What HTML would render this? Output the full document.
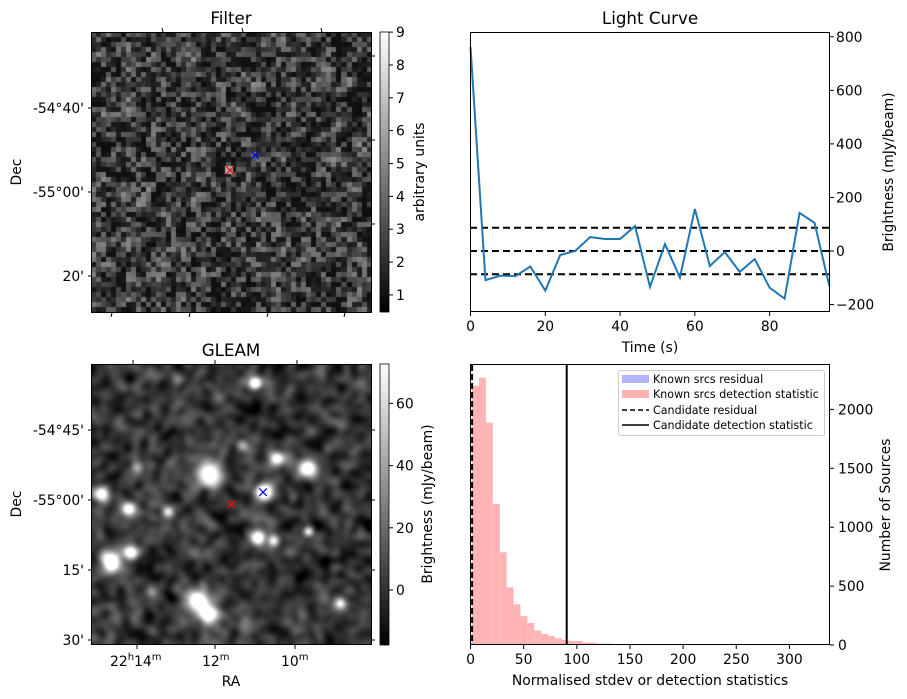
<!DOCTYPE html>
<html><head><meta charset="utf-8"><style>
body{margin:0;background:#fff;width:907px;height:699px;overflow:hidden;position:relative;font-family:"Liberation Sans","DejaVu Sans",sans-serif}
canvas{position:absolute}
svg{position:absolute;left:0;top:0}
text{font-family:"DejaVu Sans","Liberation Sans",sans-serif;fill:#000}
</style></head><body>
<canvas id="cf" width="281" height="280" style="left:91px;top:32px"></canvas>
<canvas id="cg" width="281" height="281" style="left:91px;top:364px"></canvas>
<svg id="s" width="907" height="699">
<defs>
<linearGradient id="gr" x1="0" y1="1" x2="0" y2="0"><stop offset="0" stop-color="#000"/><stop offset="1" stop-color="#fff"/></linearGradient>
</defs>
<g font-size="13.9">
<text x="231" y="24" font-size="16.7" text-anchor="middle">Filter</text>
<rect x="91.5" y="32.5" width="280" height="280" fill="none" stroke="#000"/>
<text x="84" y="113" text-anchor="end">-54°40'</text><text x="84" y="197" text-anchor="end">-55°00'</text><text x="84" y="281" text-anchor="end">20'</text>
<path d="M88 108h3M88 192h3M88 276h3M372 56h3M372 140h3M372 224h3M163 32l-1-4M243 32l-1-4M322 32l-1-4M112 313l-1 4M190 313l-1 4M268 313l-1 4M345 313l-1 4" stroke="#000"/>
<text transform="translate(21,172) rotate(-90)" text-anchor="middle">Dec</text>
<rect x="380" y="32" width="9" height="280" fill="url(#gr)" stroke="#000" stroke-width="0.8"/>
<g id="fcb"></g>
<text transform="translate(424,172) rotate(-90)" text-anchor="middle">arbitrary units</text>
<text x="230" y="175" font-size="15" text-anchor="middle" style="fill:red">×</text>
<text x="255" y="160" font-size="15" text-anchor="middle" style="fill:blue">×</text>
</g>
<g font-size="13.9">
<text x="231" y="356" font-size="16.7" text-anchor="middle">GLEAM</text>
<rect x="91.5" y="364.5" width="280" height="280" fill="none" stroke="#000"/>
<text x="84" y="435" text-anchor="end">-54°45'</text><text x="84" y="505" text-anchor="end">-55°00'</text><text x="84" y="575" text-anchor="end">15'</text><text x="84" y="645" text-anchor="end">30'</text>
<path d="M88 430h3M88 500h3M88 570h3M88 640h3M372 430h3M372 500h3M372 570h3M372 640h3M133 364v-4M215 364v-4M297 364v-4M137 645v4M215 645v4M295 645v4" stroke="#000"/>
<text x="110" y="666">22<tspan font-size="10" dy="-6">h</tspan><tspan dy="6">14</tspan><tspan font-size="10" dy="-6">m</tspan></text>
<text x="202" y="666">12<tspan font-size="10" dy="-6">m</tspan></text>
<text x="281" y="666">10<tspan font-size="10" dy="-6">m</tspan></text>
<text x="231" y="686" text-anchor="middle">RA</text>
<text transform="translate(21,504) rotate(-90)" text-anchor="middle">Dec</text>
<rect x="380" y="364" width="9" height="281" fill="url(#gr)" stroke="#000" stroke-width="0.8"/>
<g id="gcb"></g>
<text transform="translate(432,504) rotate(-90)" text-anchor="middle">Brightness (mJy/beam)</text>
<text x="231" y="509" font-size="15" text-anchor="middle" style="fill:red">×</text>
<text x="263" y="497" font-size="15" text-anchor="middle" style="fill:blue">×</text>
</g>
<g font-size="13.9">
<text x="650" y="24" font-size="16.7" text-anchor="middle">Light Curve</text>
<g id="lc"></g>
<rect x="470.5" y="32.5" width="359" height="279" fill="none" stroke="#000"/>
<text x="650" y="352" text-anchor="middle">Time (s)</text>
<text transform="translate(893,172) rotate(-90)" text-anchor="middle">Brightness (mJy/beam)</text>
</g>
<g font-size="13.9">
<g id="hg"></g>
<rect x="470.5" y="364.5" width="359" height="280" fill="none" stroke="#000"/>
<text x="650" y="685" text-anchor="middle">Normalised stdev or detection statistics</text>
<text transform="translate(890,505) rotate(-90)" text-anchor="middle">Number of Sources</text>
<g font-size="11.1">
<rect x="618.5" y="370.5" width="206" height="65" rx="2" fill="#fff" fill-opacity="0.85" stroke="#ccc"/>
<rect x="622" y="375" width="27" height="8" fill="#b3b3ff"/><text x="653" y="383">Known srcs residual</text>
<rect x="622" y="390" width="27" height="8" fill="#ffb3b3"/><text x="653" y="398">Known srcs detection statistic</text>
<path d="M622 410h27" stroke="#000" stroke-width="1.5" stroke-dasharray="5,3"/><text x="653" y="414">Candidate residual</text>
<path d="M622 425h27" stroke="#000" stroke-width="1.5"/><text x="653" y="429">Candidate detection statistic</text>
</g>
</g>
</svg>
<script>
// ---- Light curve data ----
const lcTimes=[0,4,8,12,16,20,24,28,32,36,40,44,48,52,56,60,64,68,72,76,80,84,88,92,96];
const lcValues=[762,-109,-92,-94,-58,-148,-15,0,52,45,45,93,-134,26,-99,157,-56,-4,-78,-30,-137,-178,142,105,-133];
const lcThresholds=[87,0,-87];
const lcXTicks=[0,20,40,60,80];
const lcYTicks=[-200,0,200,400,600,800];
// ---- Histogram data ----
const histEdgeStart=1.5, histBinWidth=6.5;
const histCounts=[2200,2270,1887,1197,787,490,345,246,187,122,93,76,57,42,34,34,20,20,12,12,8,8,8,8,6,6,6,6,5,5,5,5,4,4,0,4,0,0,0,0,0,0,0,0,0,0,0,0,2,0];
const residualCounts=[60,20];
const candidateResidual=1.5, candidateDetection=90.5;
const histXTicks=[0,50,100,150,200,250,300];
const histYTicks=[0,500,1000,1500,2000];
const filterCbTicks=[1,2,3,4,5,6,7,8,9];
const gleamCbTicks=[0,20,40,60];
const NS='http://www.w3.org/2000/svg';
function mk(p,t,a){const e=document.createElementNS(NS,t);for(const k in a)e.setAttribute(k,a[k]);p.appendChild(e);return e;}
const lx=v=>470.5+(v-0)/(96-0)*359, ly=v=>251-(v)*0.2678;
const lc=document.getElementById('lc');
lcXTicks.forEach(t=>{mk(lc,'path',{d:`M${lx(t)} 312v4`,stroke:'#000'});const e=mk(lc,'text',{x:lx(t),y:331,'text-anchor':'middle'});e.textContent=t;});
lcYTicks.forEach(t=>{mk(lc,'path',{d:`M830 ${ly(t)}h4`,stroke:'#000'});const e=mk(lc,'text',{x:836,y:ly(t)+5});e.textContent=t<0?'−'+(-t):t;});
lcThresholds.forEach(v=>{const l=mk(lc,'path',{d:`M470 ${ly(v)}H830`,stroke:'#000','stroke-width':2,'stroke-dasharray':'7,4'});

});
const pl=mk(lc,'polyline',{points:lcTimes.map((t,i)=>lx(t)+','+ly(lcValues[i])).join(' '),fill:'none',stroke:'#1f77b4','stroke-width':2});


const hx=v=>470.5+v*1.063, hy=v=>645-v*0.1178;
const hg=document.getElementById('hg');
histCounts.forEach((c,i)=>{if(!c)return;const x0=hx(histEdgeStart+i*histBinWidth),x1=hx(histEdgeStart+(i+1)*histBinWidth);
const r=mk(hg,'rect',{x:x0,y:hy(c),width:x1-x0,height:645-hy(c),fill:'#ffb3b3'});

});
residualCounts.forEach((c,i)=>{const r=mk(hg,'rect',{x:hx(i*2),y:hy(c),width:hx(2)-hx(0),height:645-hy(c),fill:'#b3b3ff','fill-opacity':0.7});

});
let l1=mk(hg,'path',{d:`M${hx(candidateResidual)} 365V645`,stroke:'#000','stroke-width':2,'stroke-dasharray':'6,3'});


let l2=mk(hg,'path',{d:`M${hx(candidateDetection)} 365V645`,stroke:'#000','stroke-width':2});


histXTicks.forEach(t=>{mk(hg,'path',{d:`M${hx(t)} 645v4`,stroke:'#000'});const e=mk(hg,'text',{x:hx(t),y:664,'text-anchor':'middle'});e.textContent=t;});
histYTicks.forEach(t=>{mk(hg,'path',{d:`M830 ${hy(t)}h4`,stroke:'#000'});const e=mk(hg,'text',{x:838,y:hy(t)+5});e.textContent=t;});
const fcb=document.getElementById('fcb'),gcb=document.getElementById('gcb');
filterCbTicks.forEach(t=>{const y=312-(t-0.48)*32.85;mk(fcb,'path',{d:`M389 ${y}h4`,stroke:'#000'});const e=mk(fcb,'text',{x:396,y:y+5});e.textContent=t;});
gleamCbTicks.forEach(t=>{const y=590-t*3.11;mk(gcb,'path',{d:`M389 ${y}h4`,stroke:'#000'});const e=mk(gcb,'text',{x:396,y:y+5});e.textContent=t;});
// image textures
let seed=12345;const rnd=()=>{seed=(seed*1103515245+12345)%2147483648;return seed/2147483648;};
function blur(a,W,r){const b=new Float32Array(W*W);for(let y=0;y<W;y++)for(let x=0;x<W;x++){let s=0,n=0;for(let k=-r;k<=r;k++){const xx=x+k;if(xx>=0&&xx<W){s+=a[y*W+xx];n++;}}b[y*W+x]=s/n;}
const c=new Float32Array(W*W);for(let y=0;y<W;y++)for(let x=0;x<W;x++){let s=0,n=0;for(let k=-r;k<=r;k++){const yy=y+k;if(yy>=0&&yy<W){s+=b[yy*W+x];n++;}}c[y*W+x]=s/n;}return c;}
(function(){const c=document.getElementById('cf').getContext('2d');const N=56;
let g=new Float32Array(N*N);for(let i=0;i<N*N;i++)g[i]=rnd();const b=blur(g,N,1);
for(let i=0;i<N;i++)for(let j=0;j<N;j++){let v=0.6*g[j*N+i]+0.4*b[j*N+i];v=Math.max(0,v-0.2);const q=Math.min(200,Math.round(15+220*Math.pow(v,1.5)));c.fillStyle=`rgb(${q},${q},${q})`;c.fillRect(Math.floor(i*5.02),Math.floor(j*5),6,5);}
c.fillStyle='#aaa';c.fillRect(134,134,8,8);})();
(function(){const cv=document.getElementById('cg'),c=cv.getContext('2d');const W=281;
let a=new Float32Array(W*W);const N=70;const g=[];for(let i=0;i<N*N;i++)g.push(rnd());
for(let y=0;y<W;y++)for(let x=0;x<W;x++){a[y*W+x]=g[Math.floor(y/4.02)*N+Math.floor(x/4.02)];}
a=blur(a,W,4);a=blur(a,W,3);
const img=c.createImageData(W,W);const src=[[255,383,5],[208,474,10],[277,458,6],[307,468,7],[263,492,7],[101,494,6],[129,508,6],[168,511,5],[110,561,8],[130,551,6],[258,537,6],[273,540,5],[308,531,4],[198,601,9],[208,615,7],[340,603,5],[152,592,5],[177,380,5],[242,445,5],[137,467,5]];
const amp=[260,300,260,280,280,260,260,200,300,260,260,220,160,300,280,220,110,110,110,110];
for(let y=0;y<W;y++)for(let x=0;x<W;x++){let v=55+(a[y*W+x]-0.5)*200;
src.forEach((p,i)=>{const dx=x+91-p[0],dy=y+364-p[1];v+=amp[i]*Math.exp(-(dx*dx+dy*dy)/(2*(p[2]*0.85)**2));});
v=Math.max(0,Math.min(255,v));const k=(y*W+x)*4;img.data[k]=img.data[k+1]=img.data[k+2]=v;img.data[k+3]=255;}
c.putImageData(img,0,0);})();
</script>
</body></html>
